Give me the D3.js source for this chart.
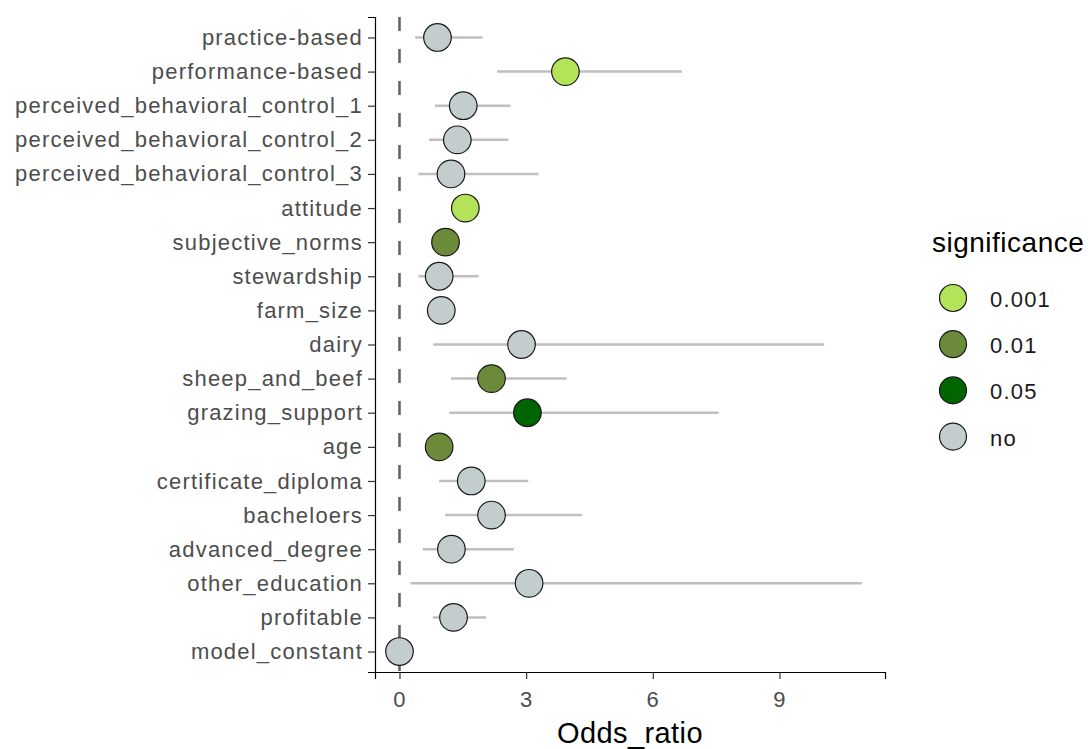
<!DOCTYPE html>
<html>
<head>
<meta charset="utf-8">
<script src="https://cdn.jsdelivr.net/npm/d3@7"></script>
<style>
  body { margin: 0; background: #fff; }
  text { font-family: "Liberation Sans", Arial, sans-serif; }
</style>
</head>
<body>
<svg id="chart" width="1090" height="749"></svg>
<script>
// variables, top to bottom
const variables = [
  'practice-based', 'performance-based', 'perceived_behavioral_control_1',
  'perceived_behavioral_control_2', 'perceived_behavioral_control_3', 'attitude',
  'subjective_norms', 'stewardship', 'farm_size', 'dairy', 'sheep_and_beef',
  'grazing_support', 'age', 'certificate_diploma', 'bacheloers', 'advanced_degree',
  'other_education', 'profitable', 'model_constant'
];
const oddsRatio = [0.90, 3.93, 1.51, 1.37, 1.22, 1.56, 1.09, 0.94, 0.99, 2.89, 2.18, 3.03, 0.94, 1.70, 2.18, 1.23, 3.07, 1.28, 0.00];
const ciLow  = [0.37, 2.31, 0.84, 0.70, 0.45, 1.50, 1.05, 0.45, 0.95, 0.80, 1.22, 1.18, 0.92, 0.94, 1.08, 0.55, 0.26, 0.79, 0.00];
const ciHigh = [1.97, 6.69, 2.63, 2.58, 3.29, 1.62, 1.13, 1.87, 1.03, 10.06, 3.96, 7.56, 0.97, 3.05, 4.32, 2.71, 10.95, 2.05, 0.00];
const significance = ['no', '0.001', 'no', 'no', 'no', '0.001', '0.01', 'no', 'no', 'no', '0.01', '0.05', '0.01', 'no', 'no', 'no', 'no', 'no', 'no'];

const sigLevels = ['0.001', '0.01', '0.05', 'no'];
const sigColors = ['#b4e35a', '#6b8a3a', '#006400', '#c3cdce'];
const xTicks = [0, 3, 6, 9];

const svg = d3.select('#chart');
const margin = { top: 17, left: 375, right: 205, bottom: 77 };
const width = 1090 - margin.left - margin.right;
const height = 749 - margin.top - margin.bottom;

const g = svg.append('g').attr('transform', `translate(${margin.left},${margin.top})`);

const x = d3.scaleLinear().domain([-0.58, 11.5]).range([0, width]);
const y = d3.scalePoint().domain(variables).range([0, height]).padding(0.6);
const color = d3.scaleOrdinal().domain(sigLevels).range(sigColors);

const rows = variables.map((v, i) => ({
  name: v, or: oddsRatio[i], lo: ciLow[i], hi: ciHigh[i], sig: significance[i]
}));

// reference line at zero
g.append('line')
  .attr('x1', x(0)).attr('x2', x(0))
  .attr('y1', 0).attr('y2', height)
  .style('stroke', '#666')
  .style('stroke-width', 2.6)
  .style('stroke-dasharray', '14,18');

// confidence intervals
g.append('g').selectAll('line')
  .data(rows)
  .enter().append('line')
  .attr('x1', d => x(d.lo)).attr('x2', d => x(d.hi))
  .attr('y1', d => y(d.name)).attr('y2', d => y(d.name))
  .style('stroke', '#bfbfbf')
  .style('stroke-width', 2.5);

// points
g.append('g').selectAll('circle')
  .data(rows)
  .enter().append('circle')
  .attr('cx', d => x(d.or))
  .attr('cy', d => y(d.name))
  .attr('r', 13.8)
  .style('fill', d => color(d.sig))
  .style('stroke', '#1a1a1a')
  .style('stroke-width', 1.2);

// axes
const yAxis = g.append('g').call(d3.axisLeft(y).tickSize(7).tickPadding(5));
const xAxis = g.append('g').attr('transform', `translate(0,${height})`)
  .call(d3.axisBottom(x).tickValues(xTicks).tickSize(7).tickPadding(12));

[yAxis, xAxis].forEach(a => {
  a.select('.domain').style('stroke', '#000').style('stroke-width', 1.2);
  a.selectAll('.tick line').style('stroke', '#333').style('stroke-width', 1.2);
  a.selectAll('.tick text')
    .style('fill', '#4d4d4d')
    .style('font-size', '22px')
    .style('letter-spacing', '1.2px');
});

svg.append('text')
  .attr('x', margin.left + width / 2)
  .attr('y', 743)
  .attr('text-anchor', 'middle')
  .style('font-size', '29px')
  .style('letter-spacing', '0.4px')
  .style('fill', '#000')
  .text('Odds_ratio');

// legend
const legend = svg.append('g').attr('transform', 'translate(932,0)');
legend.append('text')
  .attr('x', 0).attr('y', 252)
  .style('font-size', '28px')
  .style('letter-spacing', '0.5px')
  .text('significance');

const keys = legend.selectAll('g.key')
  .data(sigLevels)
  .enter().append('g')
  .attr('class', 'key')
  .attr('transform', (d, i) => `translate(0,${298 + i * 46.2})`);

keys.append('circle')
  .attr('cx', 21).attr('cy', 0).attr('r', 13.5)
  .style('fill', d => color(d))
  .style('stroke', '#1a1a1a')
  .style('stroke-width', 1.2);

keys.append('text')
  .attr('x', 58).attr('y', 9)
  .style('font-size', '22px')
  .style('letter-spacing', '1.2px')
  .style('fill', '#1a1a1a')
  .text(d => d);
</script>
</body>
</html>
